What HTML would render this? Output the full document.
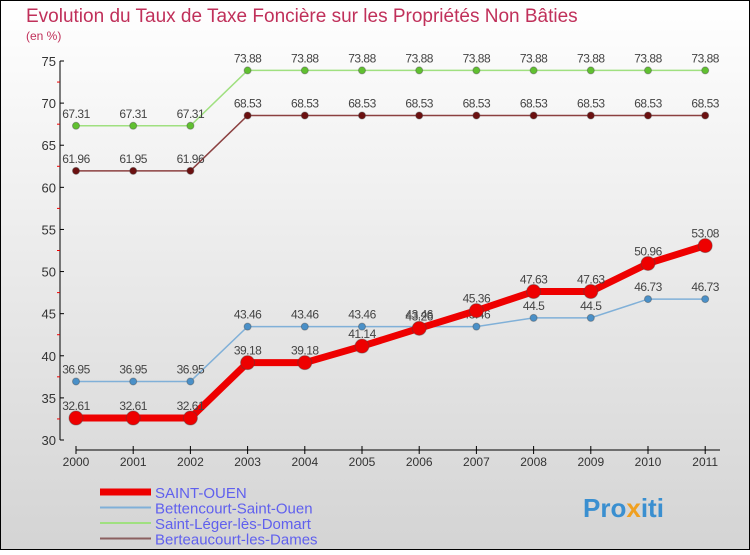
<!DOCTYPE html>
<html><head><meta charset="utf-8"><style>
body{margin:0;width:750px;height:550px;overflow:hidden;font-family:"Liberation Sans",sans-serif}
</style></head><body>
<svg id="c" width="750" height="550" xmlns="http://www.w3.org/2000/svg">
<defs><linearGradient id="bg" x1="0" y1="0" x2="0" y2="1"><stop offset="0" stop-color="#ffffff"/><stop offset="1" stop-color="#d4d4d4"/></linearGradient></defs>
<rect x="0.5" y="0.5" width="749" height="549" fill="url(#bg)" stroke="#000"/>
<text x="26" y="22" font-size="19" fill="#c0305a">Evolution du Taux de Taxe Foncière sur les Propriétés Non Bâties</text>
<text x="26" y="40" font-size="12" fill="#c0305a">(en %)</text>
<g id="axes"></g><g id="series"></g><g id="legend"></g>
<text x="583" y="517" font-size="26" font-weight="bold" fill="#3a8fd0">Pro<tspan fill="#f0a020">x</tspan>iti</text>
</svg>
<script>
const years=["2000","2001","2002","2003","2004","2005","2006","2007","2008","2009","2010","2011"];
const yTicks=[30,35,40,45,50,55,60,65,70,75];
const saintOuen=[32.61,32.61,32.61,39.18,39.18,41.14,43.26,45.36,47.63,47.63,50.96,53.08];
const bettencourt=[36.95,36.95,36.95,43.46,43.46,43.46,43.46,43.46,44.5,44.5,46.73,46.73];
const saintLeger=[67.31,67.31,67.31,73.88,73.88,73.88,73.88,73.88,73.88,73.88,73.88,73.88];
const berteaucourt=[61.96,61.95,61.96,68.53,68.53,68.53,68.53,68.53,68.53,68.53,68.53,68.53];
const names=["SAINT-OUEN","Bettencourt-Saint-Ouen","Saint-Léger-lès-Domart","Berteaucourt-les-Dames"];
const NS="http://www.w3.org/2000/svg";
const X=i=>76+i*57.2;
const Y=v=>440-(v-30)*(379/45);
function mk(p,t,a){const e=document.createElementNS(NS,t);for(const k in a)e.setAttribute(k,a[k]);p.appendChild(e);return e;}
const ax=document.getElementById('axes');
let l=mk(ax,'line',{x1:60,y1:61,x2:60,y2:440,stroke:'#000'});


l=mk(ax,'line',{x1:76,y1:450,x2:720,y2:450,stroke:'#000'});


yTicks.forEach((v,i)=>{
 mk(ax,'line',{x1:60,y1:Y(v),x2:64,y2:Y(v),stroke:'#000'});
 if(i<yTicks.length-1) mk(ax,'line',{x1:57,y1:Y(v+2.5),x2:60,y2:Y(v+2.5),stroke:'#e00'});
 const t=mk(ax,'text',{x:56,y:Y(v)+5,'font-size':13,'text-anchor':'end',fill:'#333'});
 t.textContent=v;
 
 
});
years.forEach((y,i)=>{
 mk(ax,'line',{x1:X(i),y1:446,x2:X(i),y2:454,stroke:'#000'});
 const t=mk(ax,'text',{x:X(i),y:466,'font-size':12,'text-anchor':'middle',fill:'#333'});
 t.textContent=y;
 
 
});
const sg=document.getElementById('series');
const defs=[[berteaucourt,'#8b4040','#6b1010',1.5,3.5,'berteaucourt'],[saintLeger,'#a0e080','#60c030',1.5,3.5,'saint-leger'],[bettencourt,'#80b0d8','#4a90c8',1.5,3.5,'bettencourt'],[saintOuen,'#ee0000','#ee0000',7,7,'saint-ouen']];
defs.forEach(([d,lc,pc,w,r,n])=>{
 const g=mk(sg,'g',{});
 
 
 const pl=mk(g,'polyline',{points:d.map((v,i)=>X(i)+','+Y(v)).join(' '),fill:'none',stroke:lc,'stroke-width':w});
 
 
 d.forEach((v,i)=>{
  const c=mk(g,'circle',{cx:X(i),cy:Y(v),r:r,fill:pc,stroke:'#444','stroke-opacity':0.4});
  
  
  const t=mk(g,'text',{x:X(i),y:Y(v)-8,'font-size':12,'text-anchor':'middle',fill:'#444','letter-spacing':'-0.5'});
  t.textContent=String(v).replace(/^(\d+\.\d)$/,'$1');
  
  
 });
});
const lg=document.getElementById('legend');
const lcol=['#ee0000','#80b0d8','#a0e080','#8b6060'],lw=[7,2,2,2];
names.forEach((n,i)=>{
 const y=492+i*15.5;
 const g=mk(lg,'g',{});
 
 
 mk(g,'line',{x1:100,y1:y,x2:151,y2:y,stroke:lcol[i],'stroke-width':lw[i]});
 const t=mk(g,'text',{x:155,y:y+6,'font-size':15,fill:'#6060ee'});
 t.textContent=n;
});
</script>
</body></html>
